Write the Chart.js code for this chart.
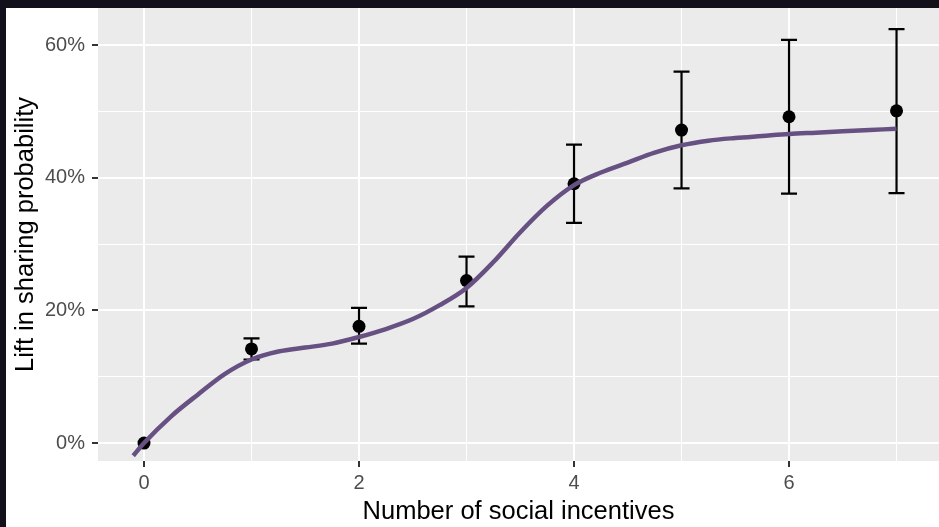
<!DOCTYPE html>
<html>
<head>
<meta charset="utf-8">
<title>Lift in sharing probability by number of social incentives</title>
<script src="https://cdn.jsdelivr.net/npm/chart.js@4/dist/chart.umd.min.js"></script>
<style>
  html, body { margin: 0; padding: 0; }
  body { width: 939px; height: 527px; background: #12111b; position: relative; overflow: hidden; }
  #frame { position: absolute; left: 6px; top: 8px; width: 933px; height: 519px; background: #ffffff; }
  canvas { display: block; }
</style>
</head>
<body>
<div id="frame"><canvas id="chart" width="933" height="519"></canvas></div>
<script>
// Observed lift (%) per number of social incentives, with confidence bounds
const incentives = [0, 1, 2, 3, 4, 5, 6, 7];
const lift       = [0, 14.2, 17.6, 24.5, 39.1, 47.2, 49.2, 50.1];
const liftLower  = [null, 12.6, 15.0, 20.6, 33.2, 38.4, 37.6, 37.7];
const liftUpper  = [null, 15.8, 20.4, 28.1, 45.0, 56.0, 60.8, 62.4];

// Smoothed trend
const smoothX = [-0.1, 0, 0.25, 0.5, 0.75, 1, 1.25, 1.5, 1.75, 2, 2.25, 2.5, 2.75, 3,
                 3.25, 3.5, 3.75, 4, 4.25, 4.5, 4.75, 5, 5.25, 5.5, 5.75, 6, 6.25, 6.5, 6.75, 7];
const smoothY = [-1.9, 0.0, 4.0, 7.3, 10.4, 12.6, 13.8, 14.4, 15.0, 16.0, 17.2, 18.7, 20.8, 23.4,
                 27.3, 31.8, 35.8, 38.9, 40.8, 42.3, 43.8, 44.9, 45.6, 46.0, 46.3, 46.6, 46.8, 47.0, 47.2, 47.4];

// Axis ticks (major ticks carry labels, minor ones only grid lines)
const xTicks = [0, 1, 2, 3, 4, 5, 6, 7];
const xLabelTicks = [0, 2, 4, 6];
const yTicks = [0, 10, 20, 30, 40, 50, 60];
const yLabelTicks = [0, 20, 40, 60];

const FONT = "'Liberation Sans', Arial, Helvetica, sans-serif";
const TICK_GREY = '#4d4d4d';
const PANEL = '#ebebeb';
const TREND = '#665182';

const panelBackground = {
  id: 'panelBackground',
  beforeDraw(chart) {
    const { ctx, chartArea: a } = chart;
    ctx.save();
    ctx.fillStyle = PANEL;
    ctx.fillRect(a.left, a.top, a.right - a.left, a.bottom - a.top);
    ctx.restore();
  }
};

const errorBars = {
  id: 'errorBars',
  beforeDatasetsDraw(chart) {
    const { ctx } = chart;
    const xs = chart.scales.x, ys = chart.scales.y;
    const cap = 8;
    ctx.save();
    ctx.strokeStyle = '#000000';
    ctx.lineWidth = 2.2;
    ctx.lineCap = 'butt';
    incentives.forEach((v, i) => {
      if (liftLower[i] == null || liftUpper[i] == null) return;
      const px = xs.getPixelForValue(v);
      const pLo = ys.getPixelForValue(liftLower[i]);
      const pHi = ys.getPixelForValue(liftUpper[i]);
      ctx.beginPath();
      ctx.moveTo(px, pLo); ctx.lineTo(px, pHi);
      ctx.moveTo(px - cap, pLo); ctx.lineTo(px + cap, pLo);
      ctx.moveTo(px - cap, pHi); ctx.lineTo(px + cap, pHi);
      ctx.stroke();
    });
    ctx.restore();
  }
};

// Panel runs edge to edge: no extra room reserved for overhanging tick labels
function noLabelOverhang(scale) {
  scale.paddingTop = 0;
  scale.paddingBottom = 0;
  scale.paddingLeft = 0;
  scale.paddingRight = 0;
}

new Chart(document.getElementById('chart'), {
  type: 'scatter',
  data: {
    datasets: [
      {
        label: 'Trend',
        data: smoothX.map((x, i) => ({ x, y: smoothY[i] })),
        showLine: true,
        borderColor: TREND,
        borderWidth: 4.5,
        pointRadius: 0,
        pointHoverRadius: 0,
        cubicInterpolationMode: 'monotone',
        fill: false,
        order: 0
      },
      {
        label: 'Lift',
        data: incentives.map((x, i) => ({ x, y: lift[i] })),
        backgroundColor: '#000000',
        borderWidth: 0,
        pointRadius: 6.5,
        pointHoverRadius: 6.5,
        order: 1
      }
    ]
  },
  options: {
    responsive: false,
    animation: false,
    devicePixelRatio: 1,
    layout: { padding: 0, autoPadding: false },
    plugins: { legend: { display: false }, tooltip: { enabled: false } },
    scales: {
      x: {
        type: 'linear',
        min: -0.428,
        max: 7.395,
        afterBuildTicks(scale) { scale.ticks = xTicks.map(v => ({ value: v })); },
        afterFit(scale) { scale.height = 66; noLabelOverhang(scale); },
        border: { display: false },
        grid: {
          color: '#ffffff',
          lineWidth: ctx => (xLabelTicks.includes(ctx.tick.value) ? 2 : 1),
          tickColor: ctx => (xLabelTicks.includes(ctx.tick.value) ? '#333333' : 'rgba(0,0,0,0)'),
          tickLength: 6,
          tickWidth: 2
        },
        ticks: {
          color: TICK_GREY,
          font: { family: FONT, size: 20 },
          padding: 4,
          maxRotation: 0,
          autoSkip: false,
          callback: v => (xLabelTicks.includes(v) ? String(v) : '')
        },
        title: {
          display: true,
          text: 'Number of social incentives',
          color: '#000000',
          font: { family: FONT, size: 25.5 },
          padding: { top: 0, bottom: 0 }
        }
      },
      y: {
        type: 'linear',
        min: -2.7,
        max: 65.6,
        afterBuildTicks(scale) { scale.ticks = yTicks.map(v => ({ value: v })); },
        afterFit(scale) { scale.width = 92; noLabelOverhang(scale); },
        border: { display: false },
        grid: {
          color: '#ffffff',
          lineWidth: ctx => (yLabelTicks.includes(ctx.tick.value) ? 2 : 1),
          tickColor: ctx => (yLabelTicks.includes(ctx.tick.value) ? '#333333' : 'rgba(0,0,0,0)'),
          tickLength: 6,
          tickWidth: 2
        },
        ticks: {
          color: TICK_GREY,
          font: { family: FONT, size: 20 },
          padding: 7,
          autoSkip: false,
          callback: v => (yLabelTicks.includes(v) ? v + '%' : '')
        },
        title: {
          display: true,
          text: 'Lift in sharing probability',
          color: '#000000',
          font: { family: FONT, size: 25.5 },
          padding: { top: 5, bottom: 0 }
        }
      }
    }
  },
  plugins: [panelBackground, errorBars]
});
</script>
</body>
</html>
